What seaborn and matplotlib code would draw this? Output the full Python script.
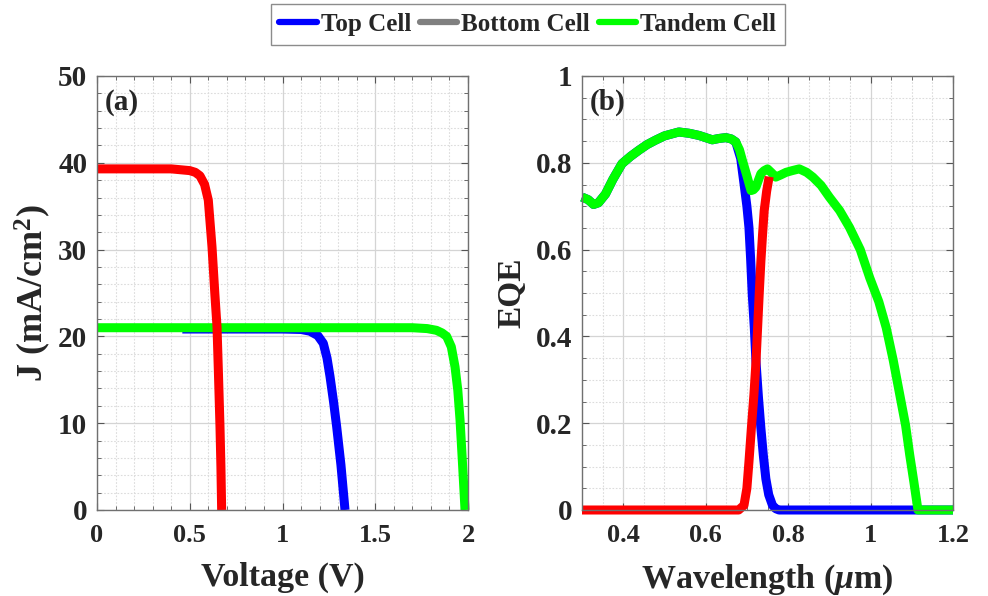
import numpy as np
import pandas as pd
import matplotlib
matplotlib.use("Agg")
import matplotlib.pyplot as plt
from matplotlib.lines import Line2D
from matplotlib.ticker import MultipleLocator, FuncFormatter
import seaborn as sns

# ---------------- data ----------------
# (a) J-V curves
v_top = [0.46, 0.6, 0.8, 1.0, 1.1, 1.148, 1.19, 1.22, 1.24, 1.256, 1.275, 1.292, 1.315, 1.337]
j_top = [20.85, 20.85, 20.85, 20.85, 20.8, 20.6, 20.1, 19.2, 17.5, 15.4, 12.5, 9.6, 5.2, 0.0]

v_bottom = [0.0, 0.1, 0.2, 0.3, 0.4, 0.45, 0.5, 0.53, 0.555, 0.58, 0.60, 0.62, 0.635, 0.647, 0.655, 0.663, 0.668, 0.672]
j_bottom = [39.3, 39.3, 39.3, 39.3, 39.3, 39.2, 39.1, 38.9, 38.5, 37.5, 35.7, 30.3, 25.0, 21.1, 15.5, 9.6, 5.0, 0.0]

v_tandem = [0.0, 0.5, 1.0, 1.5, 1.7, 1.78, 1.83, 1.86, 1.885, 1.91, 1.93, 1.945, 1.957, 1.97, 1.984]
j_tandem = [21.0, 21.0, 21.0, 21.0, 21.0, 20.9, 20.7, 20.4, 20.0, 18.8, 16.5, 13.8, 10.4, 5.5, 0.0]

# (b) EQE spectra
wl_tandem = [0.30, 0.315, 0.328, 0.34, 0.357, 0.375, 0.397, 0.418, 0.438, 0.458, 0.478, 0.50,
             0.535, 0.56, 0.584, 0.60, 0.616, 0.632, 0.649, 0.662, 0.673, 0.682, 0.689, 0.70,
             0.710, 0.716, 0.722, 0.728, 0.734, 0.742, 0.750, 0.760, 0.770, 0.782, 0.795, 0.81,
             0.827, 0.845, 0.860, 0.880, 0.900, 0.925, 0.949, 0.975, 0.998, 1.02, 1.038, 1.055,
             1.071, 1.085, 1.095, 1.105, 1.115, 1.14, 1.2]
eqe_tandem = [0.721, 0.715, 0.704, 0.708, 0.728, 0.762, 0.798, 0.815, 0.829, 0.842, 0.852, 0.862,
              0.871, 0.868, 0.863, 0.858, 0.853, 0.856, 0.858, 0.855, 0.848, 0.830, 0.806, 0.770,
              0.736, 0.738, 0.744, 0.760, 0.775, 0.782, 0.786, 0.777, 0.767, 0.772, 0.778, 0.782,
              0.786, 0.778, 0.767, 0.748, 0.721, 0.690, 0.651, 0.600, 0.535, 0.480, 0.420, 0.345,
              0.265, 0.195, 0.127, 0.065, 0.0, 0.0, 0.0]

wl_top = [0.30, 0.315, 0.328, 0.34, 0.357, 0.375, 0.397, 0.418, 0.438, 0.458, 0.478, 0.50,
          0.535, 0.56, 0.584, 0.60, 0.616, 0.632, 0.649, 0.662, 0.673, 0.685, 0.693, 0.700,
          0.705, 0.709, 0.713, 0.718, 0.722, 0.728, 0.734, 0.740, 0.746, 0.753, 0.762, 0.770,
          0.778, 1.2]
eqe_top = [0.721, 0.715, 0.704, 0.708, 0.728, 0.762, 0.798, 0.815, 0.829, 0.842, 0.852, 0.862,
           0.871, 0.868, 0.863, 0.858, 0.853, 0.856, 0.858, 0.855, 0.848, 0.81, 0.752, 0.70,
           0.651, 0.58, 0.497, 0.42, 0.343, 0.26, 0.188, 0.125, 0.072, 0.035, 0.011, 0.003,
           0.0, 0.0]

wl_bottom = [0.30, 0.68, 0.693, 0.700, 0.705, 0.711, 0.717, 0.722, 0.726, 0.730, 0.734, 0.738,
             0.742, 0.748, 0.754]
eqe_bottom = [0.0, 0.0, 0.011, 0.05, 0.111, 0.19, 0.265, 0.34, 0.42, 0.50, 0.574, 0.635,
              0.690, 0.735, 0.768]

legend_labels = ["Top Cell", "Bottom Cell", "Tandem Cell"]
legend_colors = ["#0000ff", "#808080", "#00ff00"]

# ---------------- style ----------------
sns.set_style("ticks")
plt.rcParams["font.family"] = ["Liberation Serif", "DejaVu Serif"]
plt.rcParams["font.weight"] = "bold"
plt.rcParams["mathtext.fontset"] = "custom"
plt.rcParams["mathtext.rm"] = "Liberation Serif:bold"
plt.rcParams["mathtext.it"] = "Liberation Serif:italic"
plt.rcParams["mathtext.bf"] = "Liberation Serif:bold"

BLUE, RED, GREEN = "#0000ff", "#ff0000", "#00ff00"
LW = 6.5

fig = plt.figure(figsize=(9.88, 5.96), dpi=100)
ax_a = fig.add_axes([97 / 988, 1 - 510 / 596, 371 / 988, 434 / 596])
ax_b = fig.add_axes([582 / 988, 1 - 510 / 596, 371 / 988, 434 / 596])


def line(ax, x, y, color):
    df = pd.DataFrame({"x": x, "y": y})
    sns.lineplot(data=df, x="x", y="y", ax=ax, color=color, lw=LW, sort=False,
                 clip_on=False, solid_capstyle="butt", solid_joinstyle="round")


line(ax_a, v_top, j_top, BLUE)
line(ax_a, v_tandem, j_tandem, GREEN)
line(ax_a, v_bottom, j_bottom, RED)

line(ax_b, wl_top, eqe_top, BLUE)
line(ax_b, wl_tandem, eqe_tandem, GREEN)
line(ax_b, wl_bottom, eqe_bottom, RED)

fmt = FuncFormatter(lambda v, p: f"{v:g}")


def style(ax, xlim, ylim, xmaj, xmin, ymaj, ymin):
    ax.set_xlim(*xlim)
    ax.set_ylim(*ylim)
    ax.xaxis.set_major_locator(MultipleLocator(xmaj))
    ax.xaxis.set_minor_locator(MultipleLocator(xmin))
    ax.yaxis.set_major_locator(MultipleLocator(ymaj))
    ax.yaxis.set_minor_locator(MultipleLocator(ymin))
    ax.xaxis.set_major_formatter(fmt)
    ax.yaxis.set_major_formatter(fmt)
    ax.grid(True, which="major", color="#d4d4d4", lw=0.9, ls="-")
    ax.grid(True, which="minor", color="#dcdcdc", lw=0.8, ls=(0, (1.5, 1.5)))
    ax.set_axisbelow(True)
    for s in ax.spines.values():
        s.set_visible(True)
        s.set_color("#707070")
        s.set_linewidth(1.0)
    ax.tick_params(which="both", direction="in", top=True, right=True, color="#555555")
    ax.tick_params(which="major", length=5, width=0.8)
    ax.tick_params(which="minor", length=3, width=0.6)
    ax.tick_params(axis="x", which="major", labelsize=19, pad=10)
    ax.tick_params(axis="y", which="major", labelsize=21, pad=7)
    for t in ax.get_xticklabels() + ax.get_yticklabels():
        t.set_fontweight("bold")


style(ax_a, (0, 2), (0, 50), 0.5, 0.1, 10, 2)
style(ax_b, (0.3, 1.2), (0, 1), 0.2, 0.05, 0.2, 0.05)

ax_a.set_xlabel("Voltage (V)", fontsize=24.5, fontweight="bold")
ax_a.set_ylabel(r"J (mA/cm$^{2}$)", fontsize=26, fontweight="bold")
ax_b.set_xlabel(r"Wavelength ($\mu$m)", fontsize=24.5, fontweight="bold")
ax_b.set_ylabel("EQE", fontsize=24, fontweight="bold")
ax_a.xaxis.set_label_coords(0.5, -0.12)
ax_b.xaxis.set_label_coords(0.5, -0.12)
ax_a.yaxis.set_label_coords(-0.118, 0.5)
ax_b.yaxis.set_label_coords(-0.146, 0.5)

ax_a.text(0.022, 0.97, "(a)", transform=ax_a.transAxes, fontsize=21, fontweight="bold", va="top", ha="left")
ax_b.text(0.022, 0.97, "(b)", transform=ax_b.transAxes, fontsize=21, fontweight="bold", va="top", ha="left")

handles = [Line2D([0], [0], color=c, lw=4.5) for c in legend_colors]
leg = fig.legend(handles, legend_labels, loc="upper center", bbox_to_anchor=(0.534, 0.993), ncol=3,
                 frameon=True, fancybox=False, edgecolor="#707070", fontsize=18,
                 handlelength=1.5, handletextpad=0.15, columnspacing=0.35, borderpad=0.35,
                 borderaxespad=0.0)
leg.get_frame().set_linewidth(1.0)
for t in leg.get_texts():
    t.set_fontweight("bold")

fig.savefig("out.png", dpi=100)
